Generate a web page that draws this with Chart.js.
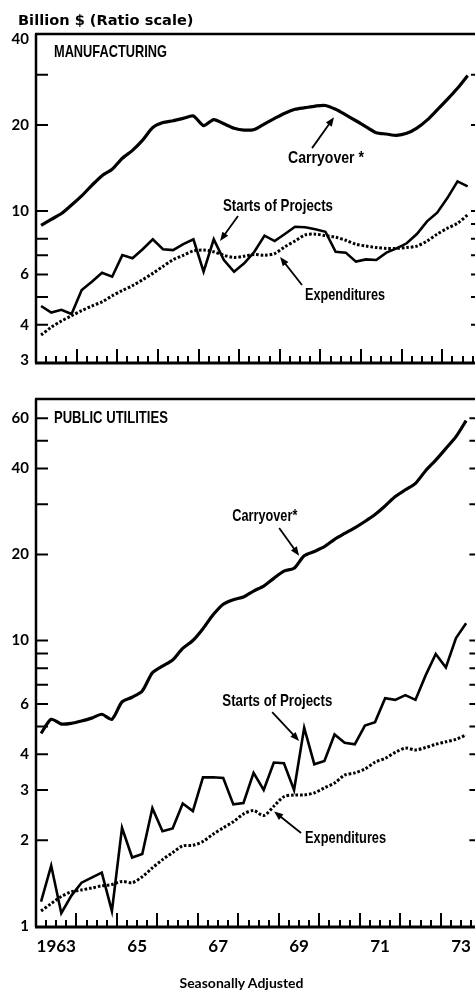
<!DOCTYPE html>
<html>
<head>
<meta charset="utf-8">
<script src="https://cdn.jsdelivr.net/npm/chart.js@4.4.1/dist/chart.umd.min.js"></script>
<style>
html,body{margin:0;padding:0;background:#fff;overflow:hidden;}
#wrap{position:relative;width:475px;height:992px;overflow:hidden;background:#fff;}
canvas{position:absolute;left:0;}
#c1{top:0;}
#c2{top:380px;}
.t{position:absolute;font-weight:bold;color:#000;white-space:nowrap;}
</style>
</head>
<body>
<div id="wrap">
  <canvas id="c1" width="480" height="379"></canvas>
  <canvas id="c2" width="480" height="612"></canvas>
  <div class="t" style="left:18px;top:12px;font-family:'DejaVu Sans',sans-serif;font-size:14.6px;line-height:15px;">Billion $ (Ratio scale)</div>
  <div class="t" style="left:0;width:483px;text-align:center;top:976px;font-family:Lato,sans-serif;font-size:14px;line-height:14px;">Seasonally Adjusted</div>
</div>
<script>
// ---------- categories (quarters 1963 Q1 .. 1973 Q3) ----------
const quarters = [];
for (let y = 1963; y <= 1973; y++) for (let q = 1; q <= 4; q++) if (quarters.length < 43) quarters.push(y + ' Q' + q);

// ---------- tick labels ----------
const yearTickLabels = ['1963', '65', '67', '69', '71', '73'];
const yearTickYears = [1963, 1965, 1967, 1969, 1971, 1973];
const mfgTickValues = [3, 4, 6, 10, 20, 40];
const utilTickValues = [1, 2, 3, 4, 6, 10, 20, 40, 60];
const mfgLeftMarks = [4, 5, 6, 7, 8, 10, 20, 30];
const mfgRightMarks = [4, 5, 6, 7, 8, 9, 10, 20, 30];
const utilLeftMarks = [2, 3, 4, 5, 6, 7, 8, 9, 10, 20, 30, 40, 50, 60];
const utilRightMarks = [2, 3, 4, 5, 6, 7, 8, 9, 10, 20, 30, 40, 50, 60];

// ---------- Manufacturing (billion $) ----------
const mfgCarryover = [8.9, 9.35, 9.8, 10.5, 11.3, 12.3, 13.3, 14.0, 15.3, 16.3, 17.7, 19.6, 20.4, 20.7, 21.1, 21.5, 19.9, 20.9, 20.2, 19.5, 19.2, 19.3, 20.2, 21.1, 22.0, 22.7, 23.0, 23.3, 23.4, 22.7, 21.7, 20.7, 19.7, 18.8, 18.6, 18.4, 18.7, 19.5, 20.8, 22.6, 24.6, 26.9, 29.8];
const mfgStarts = [4.65, 4.41, 4.51, 4.36, 5.29, 5.66, 6.08, 5.89, 7.01, 6.83, 7.35, 7.96, 7.35, 7.3, 7.66, 7.96, 6.13, 7.96, 6.74, 6.13, 6.56, 7.2, 8.2, 7.85, 8.31, 8.81, 8.77, 8.63, 8.46, 7.2, 7.15, 6.65, 6.77, 6.74, 7.15, 7.4, 7.71, 8.31, 9.2, 9.87, 11.1, 12.7, 12.2];
const mfgExpenditures = [3.68, 3.92, 4.12, 4.3, 4.48, 4.65, 4.81, 5.05, 5.27, 5.48, 5.75, 6.05, 6.4, 6.75, 7.0, 7.25, 7.3, 7.2, 7.0, 6.88, 6.95, 7.05, 7.0, 7.1, 7.5, 7.85, 8.25, 8.3, 8.2, 8.1, 7.9, 7.65, 7.54, 7.45, 7.4, 7.4, 7.45, 7.54, 7.85, 8.3, 8.7, 9.06, 9.7];

// ---------- Public utilities (billion $) ----------
const utilCarryover = [4.73, 5.3, 5.1, 5.13, 5.23, 5.35, 5.52, 5.3, 6.1, 6.33, 6.66, 7.71, 8.14, 8.55, 9.39, 10.0, 11.0, 12.3, 13.4, 13.9, 14.2, 14.9, 15.5, 16.5, 17.5, 17.9, 19.8, 20.5, 21.3, 22.6, 23.7, 24.8, 26.1, 27.6, 29.6, 31.9, 33.7, 35.5, 39.3, 42.8, 47.0, 51.7, 58.8];
const utilStarts = [1.22, 1.63, 1.11, 1.28, 1.42, 1.48, 1.54, 1.13, 2.21, 1.74, 1.79, 2.59, 2.15, 2.2, 2.69, 2.53, 3.32, 3.32, 3.3, 2.67, 2.7, 3.44, 3.0, 3.74, 3.72, 3.0, 4.95, 3.69, 3.79, 4.69, 4.39, 4.33, 5.04, 5.18, 6.28, 6.2, 6.44, 6.2, 7.55, 8.97, 8.05, 10.2, 11.5];
const utilExpenditures = [1.13, 1.2, 1.27, 1.32, 1.34, 1.36, 1.385, 1.4, 1.435, 1.42, 1.49, 1.6, 1.71, 1.81, 1.91, 1.92, 1.98, 2.1, 2.21, 2.32, 2.47, 2.54, 2.44, 2.63, 2.84, 2.88, 2.88, 2.93, 3.05, 3.17, 3.38, 3.44, 3.55, 3.75, 3.87, 4.06, 4.2, 4.14, 4.22, 4.33, 4.42, 4.51, 4.67];

// ---------- helpers ----------
const toPoints = arr => arr.map((v, i) => ({ x: i + 0.5, y: v }));   // quarter centre on the linear x scale
const yearCentre = yr => (yr - 1963) * 4 + 2;
const NOTE_FONT = 'bold 17px "Liberation Sans", Arial, sans-serif';
const BOLD = 'Lato, "DejaVu Sans", sans-serif';

const framePlugin = {
  id: 'frame',
  afterDatasetsDraw(chart, args, o) {
    const { ctx, chartArea: a, scales: { x, y } } = chart;
    ctx.save();
    ctx.strokeStyle = '#000';
    ctx.fillStyle = '#000';
    ctx.lineCap = 'butt';
    // frame
    ctx.lineWidth = 2.5;
    ctx.beginPath();
    ctx.moveTo(a.left, a.bottom); ctx.lineTo(a.left, a.top);
    ctx.moveTo(a.left - 1, a.top); ctx.lineTo(a.right + 5, a.top);
    ctx.stroke();
    ctx.lineWidth = 3;
    ctx.beginPath();
    ctx.moveTo(a.left - 1, a.bottom); ctx.lineTo(a.right + 5, a.bottom);
    ctx.stroke();
    // quarter / year ticks (inward)
    ctx.lineWidth = 2;
    ctx.beginPath();
    for (let q = 1; q <= Math.floor(x.max); q++) {
      const px = Math.round(x.getPixelForValue(q));
      const len = q % 4 === 0 ? 14 : 7;
      ctx.moveTo(px, a.bottom); ctx.lineTo(px, a.bottom - len);
    }
    ctx.stroke();
    // value marks on left and right edges
    ctx.beginPath();
    o.left.forEach(v => { const py = y.getPixelForValue(v); ctx.moveTo(a.left, py); ctx.lineTo(a.left + 12, py); });
    o.right.forEach(v => { const py = y.getPixelForValue(v); ctx.moveTo(a.right - 6, py); ctx.lineTo(a.right, py); });
    ctx.stroke();
    // labels (condensed to the reference width)
    o.notes.forEach(n => {
      ctx.font = NOTE_FONT;
      ctx.textAlign = 'left';
      ctx.textBaseline = 'alphabetic';
      const w = ctx.measureText(n.text).width;
      ctx.save();
      ctx.translate(x.getPixelForValue(n.at[0]), y.getPixelForValue(n.at[1]));
      ctx.scale(n.w / w, 1);
      ctx.fillText(n.text, 0, 0);
      ctx.restore();
    });
    // arrows
    o.arrows.forEach(ar => {
      const x0 = x.getPixelForValue(ar.from[0]), y0 = y.getPixelForValue(ar.from[1]);
      const x1 = x.getPixelForValue(ar.to[0]), y1 = y.getPixelForValue(ar.to[1]);
      const ang = Math.atan2(y1 - y0, x1 - x0);
      const L = 9, W = 3.6;
      ctx.lineWidth = 1.8;
      ctx.beginPath();
      ctx.moveTo(x0, y0);
      ctx.lineTo(x1 - Math.cos(ang) * (L - 1), y1 - Math.sin(ang) * (L - 1));
      ctx.stroke();
      ctx.beginPath();
      ctx.moveTo(x1, y1);
      ctx.lineTo(x1 - Math.cos(ang) * L - Math.sin(ang) * W, y1 - Math.sin(ang) * L + Math.cos(ang) * W);
      ctx.lineTo(x1 - Math.cos(ang) * L + Math.sin(ang) * W, y1 - Math.sin(ang) * L - Math.cos(ang) * W);
      ctx.closePath();
      ctx.fill();
    });
    ctx.restore();
  }
};

function makeDatasets(carry, starts, exps) {
  return [
    { label: 'Carryover*', data: toPoints(carry), borderColor: '#000', borderWidth: 3.2, tension: 0.25, pointRadius: 0 },
    { label: 'Starts of Projects', data: toPoints(starts), borderColor: '#000', borderWidth: 2.6, tension: 0, pointRadius: 0 },
    { label: 'Expenditures', data: toPoints(exps), borderColor: '#000', borderWidth: 3, borderDash: [2.6, 1.9], tension: 0.3, pointRadius: 0 }
  ];
}

function makeOptions(cfg) {
  return {
    responsive: false,
    animation: false,
    events: [],
    layout: { padding: cfg.padding },
    plugins: { legend: { display: false }, tooltip: { enabled: false }, frame: cfg.frame },
    scales: {
      x: {
        type: 'linear', min: 0, max: 43.42,
        display: cfg.showX,
        afterFit: s => { s.height = cfg.showX ? 30 : 0; },
        afterBuildTicks: s => { s.ticks = yearTickYears.map(yr => ({ value: yearCentre(yr) })); },
        grid: { display: false, drawTicks: false },
        border: { display: false },
        ticks: {
          autoSkip: false, maxRotation: 0, padding: 9, color: '#000',
          font: { family: BOLD, weight: 'bold', size: 17 },
          callback: (v, i) => yearTickLabels[i]
        }
      },
      y: {
        type: 'logarithmic', position: 'left',
        min: cfg.min, max: cfg.max,
        afterFit: s => { s.width = 36; },
        afterBuildTicks: s => { s.ticks = cfg.tickValues.map(v => ({ value: v })); },
        grid: { display: false, drawTicks: false },
        border: { display: false },
        ticks: {
          autoSkip: false, padding: 7, color: '#000',
          font: { family: BOLD, weight: 'bold', size: 15 },
          callback: v => String(v)
        }
      }
    }
  };
}

new Chart(document.getElementById('c1'), {
  type: 'line',
  data: { labels: quarters, datasets: makeDatasets(mfgCarryover, mfgStarts, mfgExpenditures) },
  options: makeOptions({
    padding: { top: 34, right: 3, bottom: 16, left: 0 },
    showX: false, min: 2.938, max: 41.65, tickValues: mfgTickValues,
    frame: {
      left: mfgLeftMarks, right: mfgRightMarks,
      notes: [
        { text: 'MANUFACTURING', at: [1.77, 34.6], w: 113 },
        { text: 'Carryover *', at: [24.81, 14.78], w: 76 },
        { text: 'Starts of Projects', at: [18.41, 10.0], w: 110 },
        { text: 'Expenditures', at: [26.49, 4.9], w: 80 }
      ],
      arrows: [
        { from: [27.18, 16.6], to: [29.34, 21.3] },
        { from: [19.89, 9.6], to: [18.12, 7.85] },
        { from: [26.19, 5.51], to: [24.03, 6.9] }
      ]
    }
  }),
  plugins: [framePlugin]
});

new Chart(document.getElementById('c2'), {
  type: 'line',
  data: { labels: quarters, datasets: makeDatasets(utilCarryover, utilStarts, utilExpenditures) },
  options: makeOptions({
    padding: { top: 19, right: 3, bottom: 35, left: 0 },
    showX: true, min: 0.9937, max: 70.04, tickValues: utilTickValues,
    frame: {
      left: utilLeftMarks, right: utilRightMarks,
      notes: [
        { text: 'PUBLIC UTILITIES', at: [1.77, 57.7], w: 114 },
        { text: 'Carryover*', at: [19.4, 26.2], w: 65 },
        { text: 'Starts of Projects', at: [18.41, 5.9], w: 110 },
        { text: 'Expenditures', at: [26.59, 1.95], w: 81 }
      ],
      arrows: [
        { from: [24.03, 24.77], to: [26.0, 19.8] },
        { from: [23.34, 5.62], to: [26.0, 4.45] },
        { from: [26.19, 2.12], to: [23.53, 2.52] }
      ]
    }
  }),
  plugins: [framePlugin]
});
</script>
</body>
</html>
